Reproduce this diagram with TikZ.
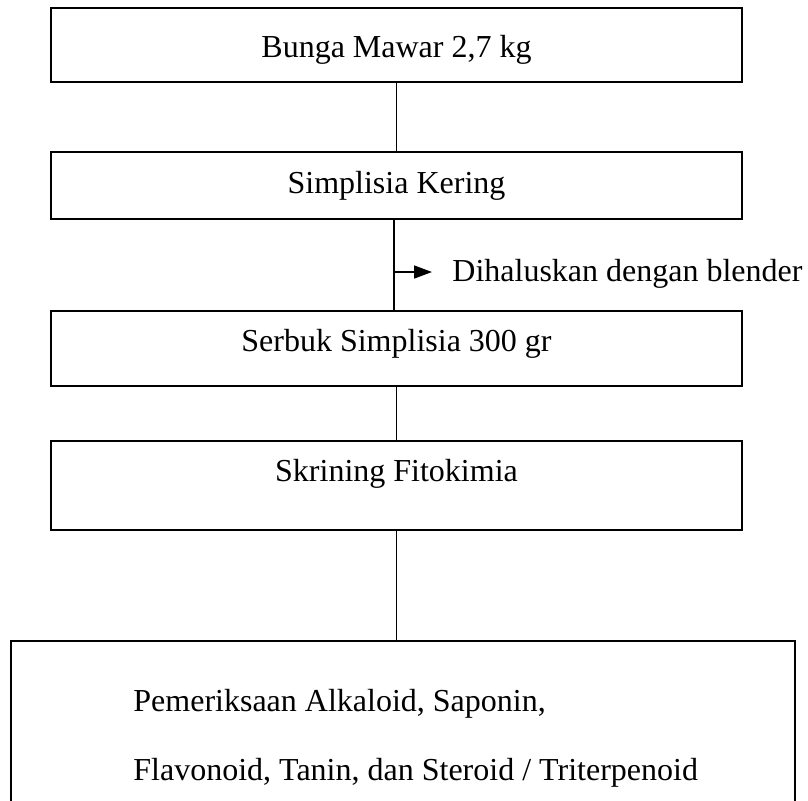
\documentclass[tikz,border=0pt]{standalone}
\usepackage{fontspec}
\setmainfont{Liberation Serif}
\usetikzlibrary{arrows.meta}

\tikzset{
  box/.style={draw, line width=1pt, minimum width=345.5pt, inner sep=0pt},
  lbl/.style={anchor=base, inner sep=0pt, font=\fontsize{16}{19}\selectfont},
  link/.style={line width=.8pt},
}

\begin{document}
\begin{tikzpicture}[x=.5pt,y=-.5pt]
        % page
        \clip (0,0) rectangle (808,800);
        % boxes
        \node[box, minimum height=37pt]   (b1) at (396.5,45) {};
        \node[box, minimum height=33.5pt] (b2) at (396.5,185.5) {};
        \node[box, minimum height=37.5pt] (b3) at (396.5,348.5) {};
        \node[box, minimum height=44.5pt] (b4) at (396.5,485.5) {};
        \node[box, minimum width=392pt, minimum height=99pt] (b5) at (403,740) {};
        % texts
        \node[lbl] (t1) at (396.5,57) {Bunga Mawar 2,7 kg};
        \node[lbl] (t2) at (396.5,193) {Simplisia Kering};
        \node[lbl] (t3) at (396.5,351) {Serbuk Simplisia 300 gr};
        \node[lbl] (t4) at (396.5,481) {Skrining Fitokimia};
        \node[lbl, anchor=base west] (t5a) at (133,711) {Pemeriksaan Alkaloid, Saponin,};
        \node[lbl, anchor=base west] (t5b) at (133,780) {Flavonoid, Tanin, dan Steroid / Triterpenoid};
        \node[lbl, anchor=base west] (note) at (452,281) {Dihaluskan dengan blender};
        % connectors
        \coordinate (split) at (394,272);
        \coordinate (tip) at (432,272);
        \draw[link] (b1.south) -- (b2.north);
        \draw[link] (b2.south -| split) -- (b3.north -| split);
        \draw[link,-{Triangle[length=9pt,width=6.5pt]}] (split) -- (tip);
        \draw[link] (b3.south) -- (b4.north);
        \draw[link] (b4.south) -- (b5.north -| b4.south);
\end{tikzpicture}
\end{document}
